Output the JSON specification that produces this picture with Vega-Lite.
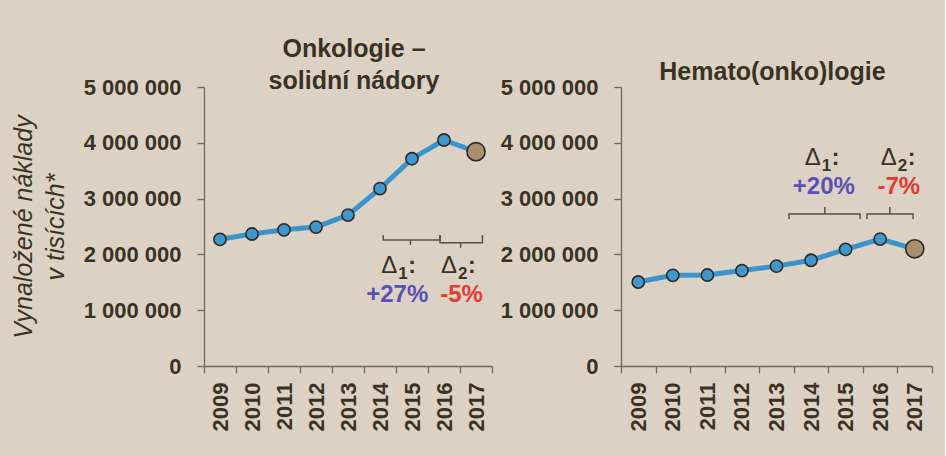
{
  "$schema": "https://vega.github.io/schema/vega-lite/v6.json",
  "background": "#dbd2c5",
  "padding": {"left": 11, "top": 37, "right": 12, "bottom": 25},
  "bounds": "flush",
  "spacing": 129,
  "datasets": {
    "onko": [
      {"year": 2009, "value": 2270000},
      {"year": 2010, "value": 2365000},
      {"year": 2011, "value": 2440000},
      {"year": 2012, "value": 2490000},
      {"year": 2013, "value": 2705000},
      {"year": 2014, "value": 3180000},
      {"year": 2015, "value": 3715000},
      {"year": 2016, "value": 4050000},
      {"year": 2017, "value": 3840000}
    ],
    "hema": [
      {"year": 2009, "value": 1505000},
      {"year": 2010, "value": 1625000},
      {"year": 2011, "value": 1630000},
      {"year": 2012, "value": 1710000},
      {"year": 2013, "value": 1790000},
      {"year": 2014, "value": 1895000},
      {"year": 2015, "value": 2090000},
      {"year": 2016, "value": 2275000},
      {"year": 2017, "value": 2100000}
    ],
    "onkoBr": [
      {"id": "a", "o": 1, "ax": 2014.10, "value": 2348000},
      {"id": "a", "o": 2, "ax": 2014.10, "value": 2258000},
      {"id": "a", "o": 3, "ax": 2014.95, "value": 2258000},
      {"id": "a", "o": 4, "ax": 2014.95, "value": 2168000},
      {"id": "a", "o": 5, "ax": 2014.95, "value": 2258000},
      {"id": "a", "o": 6, "ax": 2015.875, "value": 2258000},
      {"id": "a", "o": 7, "ax": 2015.875, "value": 2348000},
      {"id": "b", "o": 1, "ax": 2015.875, "value": 2348000},
      {"id": "b", "o": 2, "ax": 2015.875, "value": 2210000},
      {"id": "b", "o": 3, "ax": 2016.52, "value": 2210000},
      {"id": "b", "o": 4, "ax": 2016.52, "value": 2120000},
      {"id": "b", "o": 5, "ax": 2016.52, "value": 2210000},
      {"id": "b", "o": 6, "ax": 2017.2, "value": 2210000},
      {"id": "b", "o": 7, "ax": 2017.2, "value": 2348000}
    ],
    "hemaBr": [
      {"id": "a", "o": 1, "ax": 2013.36, "value": 2634000},
      {"id": "a", "o": 2, "ax": 2013.36, "value": 2724000},
      {"id": "a", "o": 3, "ax": 2014.40, "value": 2724000},
      {"id": "a", "o": 4, "ax": 2014.40, "value": 2849000},
      {"id": "a", "o": 5, "ax": 2014.40, "value": 2724000},
      {"id": "a", "o": 6, "ax": 2015.42, "value": 2724000},
      {"id": "a", "o": 7, "ax": 2015.42, "value": 2634000},
      {"id": "b", "o": 1, "ax": 2015.62, "value": 2634000},
      {"id": "b", "o": 2, "ax": 2015.62, "value": 2724000},
      {"id": "b", "o": 3, "ax": 2016.28, "value": 2724000},
      {"id": "b", "o": 4, "ax": 2016.28, "value": 2849000},
      {"id": "b", "o": 5, "ax": 2016.28, "value": 2724000},
      {"id": "b", "o": 6, "ax": 2016.95, "value": 2724000},
      {"id": "b", "o": 7, "ax": 2016.95, "value": 2634000}
    ],
    "onkoDelta": [
      {"ax": 2014.54, "value": 1672000, "sub": "1"},
      {"ax": 2016.41, "value": 1672000, "sub": "2"}
    ],
    "hemaDelta": [
      {"ax": 2014.28, "value": 3600000, "sub": "1"},
      {"ax": 2016.48, "value": 3600000, "sub": "2"}
    ],
    "onkoPct": [
      {"ax": 2014.54, "value": 1152000, "pct": "+27%", "sign": "+"},
      {"ax": 2016.55, "value": 1152000, "pct": "-5%", "sign": "-"}
    ],
    "hemaPct": [
      {"ax": 2014.37, "value": 3082000, "pct": "+20%", "sign": "+"},
      {"ax": 2016.54, "value": 3082000, "pct": "-7%", "sign": "-"}
    ]
  },
  "hconcat": [
    {
      "width": 288,
      "height": 279,
      "title": {"text": ["Onkologie –", "solidní nádory"], "offset": -18, "dx": 6},
      "encoding": {
        "y": {
          "field": "value", "type": "quantitative",
          "scale": {"domain": [0, 5000000], "nice": false},
          "axis": {
            "values": [0, 1000000, 2000000, 3000000, 4000000, 5000000],
            "format": ",d",
            "title": ["Vynaložené náklady", "v tisících*"],
            "titleFontStyle": "italic", "titleFontWeight": "normal", "titleFontSize": 25,
            "titleLineHeight": 32, "titlePadding": 15, "titleColor": "#3b3226"
          }
        }
      },
      "layer": [
        {
          "data": {"name": "onko"},
          "encoding": {
            "x": {"field": "year", "type": "ordinal", "scale": {"type": "band", "paddingInner": 0, "paddingOuter": 0}, "axis": {"title": null}}
          },
          "layer": [
            {"mark": {"type": "line", "color": "#3a93c9", "strokeWidth": 5}},
            {
              "mark": {"type": "point", "filled": true, "stroke": "#2e2a25", "strokeWidth": 1.6, "opacity": 1},
              "encoding": {
                "fill": {"condition": {"test": "datum.year == 2017", "value": "#a78e6c"}, "value": "#3f97cb"},
                "size": {"condition": {"test": "datum.year == 2017", "value": 330}, "value": 150}
              }
            }
          ]
        },
        {
          "encoding": {
            "x": {"field": "ax", "type": "quantitative", "scale": {"domain": [2008.5, 2017.5], "nice": false, "zero": false}, "axis": null}
          },
          "layer": [
            {"data": {"name": "onkoBr"}, "mark": {"type": "line", "color": "#5b5247", "strokeWidth": 1.5}, "encoding": {"detail": {"field": "id"}, "order": {"field": "o"}}},
            {"data": {"name": "onkoDelta"}, "mark": {"type": "text", "text": "Δ", "align": "right", "baseline": "alphabetic", "fontSize": 24, "fontWeight": "normal", "color": "#3b3226"}},
            {"data": {"name": "onkoDelta"}, "mark": {"type": "text", "align": "left", "baseline": "alphabetic", "dx": 1, "dy": 6, "fontSize": 17, "fontWeight": "bold", "color": "#3b3226"}, "encoding": {"text": {"field": "sub"}}},
            {"data": {"name": "onkoDelta"}, "mark": {"type": "text", "text": ":", "align": "left", "baseline": "alphabetic", "dx": 11, "fontSize": 23, "fontWeight": "bold", "color": "#3b3226"}},
            {"data": {"name": "onkoPct"}, "mark": {"type": "text", "align": "center", "baseline": "alphabetic", "fontSize": 24, "fontWeight": "bold"}, "encoding": {"text": {"field": "pct"}, "color": {"field": "sign", "type": "nominal", "scale": {"domain": ["+", "-"], "range": ["#5b50b5", "#e33b2f"]}, "legend": null}}}
          ]
        }
      ],
      "resolve": {"scale": {"x": "independent"}}
    },
    {
      "width": 311,
      "height": 279,
      "title": {"text": "Hemato(onko)logie", "offset": -9, "dx": -4},
      "encoding": {
        "y": {
          "field": "value", "type": "quantitative",
          "scale": {"domain": [0, 5000000], "nice": false},
          "axis": {
            "values": [0, 1000000, 2000000, 3000000, 4000000, 5000000],
            "format": ",d",
            "title": null
          }
        }
      },
      "layer": [
        {
          "data": {"name": "hema"},
          "encoding": {
            "x": {"field": "year", "type": "ordinal", "scale": {"type": "band", "paddingInner": 0, "paddingOuter": 0}, "axis": {"title": null}}
          },
          "layer": [
            {"mark": {"type": "line", "color": "#3a93c9", "strokeWidth": 5}},
            {
              "mark": {"type": "point", "filled": true, "stroke": "#2e2a25", "strokeWidth": 1.6, "opacity": 1},
              "encoding": {
                "fill": {"condition": {"test": "datum.year == 2017", "value": "#a78e6c"}, "value": "#3f97cb"},
                "size": {"condition": {"test": "datum.year == 2017", "value": 330}, "value": 150}
              }
            }
          ]
        },
        {
          "encoding": {
            "x": {"field": "ax", "type": "quantitative", "scale": {"domain": [2008.5, 2017.5], "nice": false, "zero": false}, "axis": null}
          },
          "layer": [
            {"data": {"name": "hemaBr"}, "mark": {"type": "line", "color": "#5b5247", "strokeWidth": 1.5}, "encoding": {"detail": {"field": "id"}, "order": {"field": "o"}}},
            {"data": {"name": "hemaDelta"}, "mark": {"type": "text", "text": "Δ", "align": "right", "baseline": "alphabetic", "fontSize": 24, "fontWeight": "normal", "color": "#3b3226"}},
            {"data": {"name": "hemaDelta"}, "mark": {"type": "text", "align": "left", "baseline": "alphabetic", "dx": 1, "dy": 6, "fontSize": 17, "fontWeight": "bold", "color": "#3b3226"}, "encoding": {"text": {"field": "sub"}}},
            {"data": {"name": "hemaDelta"}, "mark": {"type": "text", "text": ":", "align": "left", "baseline": "alphabetic", "dx": 11, "fontSize": 23, "fontWeight": "bold", "color": "#3b3226"}},
            {"data": {"name": "hemaPct"}, "mark": {"type": "text", "align": "center", "baseline": "alphabetic", "fontSize": 24, "fontWeight": "bold"}, "encoding": {"text": {"field": "pct"}, "color": {"field": "sign", "type": "nominal", "scale": {"domain": ["+", "-"], "range": ["#5b50b5", "#e33b2f"]}, "legend": null}}}
          ]
        }
      ],
      "resolve": {"scale": {"x": "independent"}}
    }
  ],
  "config": {
    "font": "Liberation Sans",
    "locale": {"number": {"decimal": ",", "thousands": " ", "grouping": [3], "currency": ["", " Kč"]}},
    "view": {"stroke": null},
    "title": {"fontSize": 25, "fontWeight": "bold", "color": "#3b3226", "lineHeight": 32, "anchor": "middle", "font": "Liberation Sans"},
    "axis": {
      "grid": false,
      "domainColor": "#716858",
      "tickColor": "#716858",
      "domainWidth": 1.3,
      "tickWidth": 1.3,
      "tickSize": 7,
      "labelFontSize": 22,
      "labelFontWeight": "bold",
      "labelColor": "#3b3226",
      "labelFont": "Liberation Sans"
    },
    "axisY": {"labelPadding": 16},
    "axisX": {"tickBand": "extent", "labelAngle": 270, "labelPadding": 9}
  }
}
